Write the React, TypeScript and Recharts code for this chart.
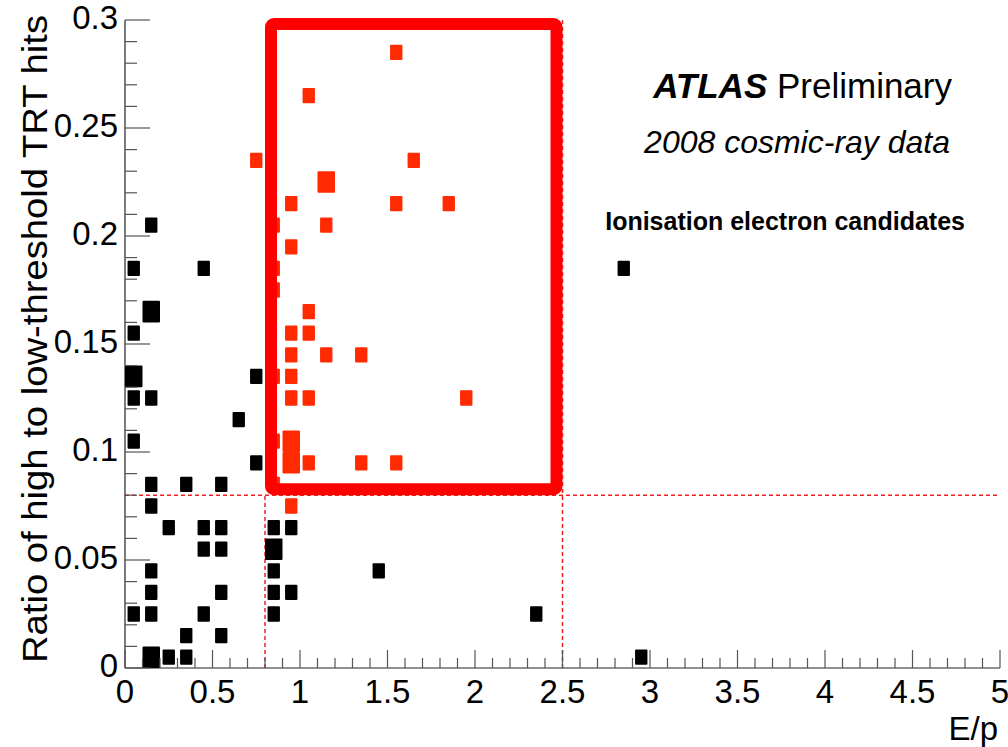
import React from 'react';
import { ScatterChart, Scatter, XAxis, YAxis, ReferenceLine, ReferenceArea } from 'recharts';

// Cosmic-ray tracks binned in E/p (0.1 wide) and TRT high/low-threshold hit ratio (0.01 wide).
// Each entry is a bin centre with its number of entries.
const allTrackEp = [
  0.15, 0.05, 0.45, 0.15, 0.05, 0.05, 0.75, 0.05, 0.15, 0.65, 0.05, 0.75, 0.15, 0.35, 0.55,
  0.15, 0.25, 0.45, 0.55, 0.85, 0.95, 0.45, 0.55, 0.85, 0.15, 0.85, 1.45, 0.15, 0.55, 0.85,
  0.95, 0.05, 0.15, 0.45, 0.85, 2.35, 0.35, 0.55, 0.15, 0.25, 0.35, 2.95, 2.85,
];
const allTrackRatio = [
  0.205, 0.185, 0.185, 0.165, 0.155, 0.135, 0.135, 0.125, 0.125, 0.115, 0.105, 0.095, 0.085, 0.085, 0.085,
  0.075, 0.065, 0.065, 0.065, 0.065, 0.065, 0.055, 0.055, 0.055, 0.045, 0.045, 0.045, 0.035, 0.035, 0.035,
  0.035, 0.025, 0.025, 0.025, 0.025, 0.025, 0.015, 0.015, 0.005, 0.005, 0.005, 0.005, 0.185,
];
const allTrackCount = [
  1, 1, 1, 2, 1, 2, 1, 1, 1, 1, 1, 1, 1, 1, 1,
  1, 1, 1, 1, 1, 1, 1, 1, 2, 1, 1, 1, 1, 1, 1,
  1, 1, 1, 1, 1, 1, 1, 1, 2, 1, 1, 1, 1,
];

const candidateEp = [
  1.55, 1.05, 0.75, 1.65, 1.15, 0.95, 1.55, 1.85, 0.85, 1.15, 0.95, 0.85, 0.85, 1.05, 0.95, 1.05,
  0.95, 1.15, 1.35, 0.85, 0.95, 0.95, 1.05, 1.95, 0.85, 0.95, 0.95, 1.05, 1.35, 1.55, 0.85, 0.95,
];
const candidateRatio = [
  0.285, 0.265, 0.235, 0.235, 0.225, 0.215, 0.215, 0.215, 0.205, 0.205, 0.195, 0.185, 0.175, 0.165, 0.155, 0.155,
  0.145, 0.145, 0.145, 0.135, 0.135, 0.125, 0.125, 0.125, 0.105, 0.105, 0.095, 0.095, 0.095, 0.095, 0.085, 0.075,
];
const candidateCount = [
  1, 1, 1, 1, 2, 1, 1, 1, 1, 1, 1, 1, 1, 1, 1, 1,
  1, 1, 1, 1, 1, 1, 1, 1, 1, 2, 2, 1, 1, 1, 1, 1,
];

const X_MAJOR_TICKS = [0, 0.5, 1, 1.5, 2, 2.5, 3, 3.5, 4, 4.5, 5];
const X_TICK_LABELS = ['0', '0.5', '1', '1.5', '2', '2.5', '3', '3.5', '4', '4.5', '5'];
const Y_MAJOR_TICKS = [0, 0.05, 0.1, 0.15, 0.2, 0.25, 0.3];
const Y_TICK_LABELS = ['0', '0.05', '0.1', '0.15', '0.2', '0.25', '0.3'];

// Selection cuts
const EP_MIN = 0.8;
const EP_MAX = 2.5;
const RATIO_MIN = 0.08;

const X_DOMAIN: [number, number] = [0, 5];
const Y_DOMAIN: [number, number] = [0, 0.3];
const X_BIN = 0.1;
const Y_BIN = 0.01;
const MAX_COUNT = 2;

// Layout
const WIDTH = 1008;
const HEIGHT = 747;
const MARGIN = { top: 20, right: 8, bottom: 0, left: 0 };
const Y_AXIS_WIDTH = 125;
const X_AXIS_HEIGHT = 79;
const PLOT_W = WIDTH - MARGIN.left - MARGIN.right - Y_AXIS_WIDTH;
const PLOT_H = HEIGHT - MARGIN.top - MARGIN.bottom - X_AXIS_HEIGHT;
const BIN_W_PX = (PLOT_W * X_BIN) / (X_DOMAIN[1] - X_DOMAIN[0]);
const BIN_H_PX = (PLOT_H * Y_BIN) / (Y_DOMAIN[1] - Y_DOMAIN[0]);

const FONT = "'Liberation Sans', Arial, Helvetica, sans-serif";
const AXIS_COLOR = '#222';
const TICK_COLOR = '#555';
const CANDIDATE_COLOR = '#ff2a00';
const CUT_COLOR = '#f02020';

const minorTicks = (lo: number, hi: number, step: number) => {
  const n = Math.round((hi - lo) / step);
  const out: number[] = [];
  for (let i = 0; i <= n; i++) out.push(+(lo + i * step).toFixed(4));
  return out;
};
const X_ALL_TICKS = minorTicks(X_DOMAIN[0], X_DOMAIN[1], X_BIN);
const Y_ALL_TICKS = minorTicks(Y_DOMAIN[0], Y_DOMAIN[1], Y_BIN);

const majorIndex = (list: number[], v: number) => list.findIndex((t) => Math.abs(t - v) < 1e-9);

const allTracks = allTrackEp.map((ep, i) => ({ ep, ratio: allTrackRatio[i], count: allTrackCount[i] }));
const candidates = candidateEp.map((ep, i) => ({ ep, ratio: candidateRatio[i], count: candidateCount[i] }));

// Tick renderers: tick marks point into the frame, as in a ROOT canvas
const makeXTick = (dir: 1 | -1, majorLen: number, minorLen: number, withLabels: boolean) => (props: any) => {
  const { x, y, payload } = props;
  const idx = majorIndex(X_MAJOR_TICKS, payload.value);
  const len = idx >= 0 ? majorLen : minorLen;
  return (
    <g>
      <line x1={x} x2={x} y1={y} y2={y + dir * len} stroke={TICK_COLOR} strokeWidth={1.2} />
      {withLabels && idx >= 0 && (
        <text x={x} y={y + 35} textAnchor="middle" fontSize={33} fontFamily={FONT} fill="#000">
          {X_TICK_LABELS[idx]}
        </text>
      )}
    </g>
  );
};

const makeYTick = (dir: 1 | -1, majorLen: number, minorLen: number, withLabels: boolean) => (props: any) => {
  const { x, y, payload } = props;
  const idx = majorIndex(Y_MAJOR_TICKS, payload.value);
  const len = idx >= 0 ? majorLen : minorLen;
  return (
    <g>
      <line x1={x} x2={x + dir * len} y1={y} y2={y} stroke={TICK_COLOR} strokeWidth={1.2} />
      {withLabels && idx >= 0 && (
        <text x={x - 7} y={y + 9} textAnchor="end" fontSize={33} fontFamily={FONT} fill="#000">
          {Y_TICK_LABELS[idx]}
        </text>
      )}
    </g>
  );
};

const binBox = (fill: string) => (props: any) => {
  const { cx, cy, payload } = props;
  const s = Math.sqrt(payload.count / MAX_COUNT);
  const w = BIN_W_PX * s;
  const h = BIN_H_PX * s;
  return <rect x={cx - w / 2} y={cy - h / 2} width={w} height={h} fill={fill} rx={1} />;
};

const selectionBox = (props: any) => {
  const { x, y, width, height } = props;
  const sw = 12;
  return (
    <rect
      x={x + sw / 2}
      y={y + sw / 2 - 2}
      width={width - sw}
      height={height - sw + 2}
      fill="none"
      stroke="#ff0000"
      strokeWidth={sw}
      rx={3}
    />
  );
};

const axisLine = { stroke: AXIS_COLOR, strokeWidth: 1.2 };

export default function App() {
  return (
    <div style={{ position: 'fixed', left: 0, top: 0, width: WIDTH, height: HEIGHT, background: '#fff' }}>
      <ScatterChart width={WIDTH} height={HEIGHT} margin={MARGIN}>
        <XAxis
          xAxisId="bottom"
          orientation="bottom"
          type="number"
          dataKey="ep"
          domain={X_DOMAIN}
          allowDataOverflow
          ticks={X_ALL_TICKS}
          interval={0}
          height={X_AXIS_HEIGHT}
          tickSize={0}
          tickMargin={0}
          tickLine={false}
          axisLine={axisLine}
          tick={makeXTick(-1, 18, 10, true)}
        />
        <XAxis
          xAxisId="top"
          orientation="top"
          mirror
          type="number"
          domain={X_DOMAIN}
          allowDataOverflow
          ticks={X_ALL_TICKS}
          interval={0}
          height={0}
          tickSize={0}
          tickMargin={0}
          tickLine={false}
          axisLine={axisLine}
          tick={makeXTick(1, 15, 8, false)}
        />
        <YAxis
          yAxisId="left"
          orientation="left"
          type="number"
          dataKey="ratio"
          domain={Y_DOMAIN}
          allowDataOverflow
          ticks={Y_ALL_TICKS}
          interval={0}
          width={Y_AXIS_WIDTH}
          tickSize={0}
          tickMargin={0}
          tickLine={false}
          axisLine={axisLine}
          tick={makeYTick(1, 25, 12, true)}
        />
        <YAxis
          yAxisId="right"
          orientation="right"
          mirror
          type="number"
          domain={Y_DOMAIN}
          allowDataOverflow
          ticks={Y_ALL_TICKS}
          interval={0}
          width={0}
          tickSize={0}
          tickMargin={0}
          tickLine={false}
          axisLine={axisLine}
          tick={makeYTick(-1, 22, 12, false)}
        />

        <ReferenceLine
          xAxisId="bottom"
          yAxisId="left"
          segment={[{ x: EP_MIN, y: Y_DOMAIN[0] }, { x: EP_MIN, y: RATIO_MIN }]}
          stroke={CUT_COLOR}
          strokeWidth={1.5}
          strokeDasharray="4 3"
        />
        <ReferenceLine
          xAxisId="bottom"
          yAxisId="left"
          x={EP_MAX}
          stroke={CUT_COLOR}
          strokeWidth={1.5}
          strokeDasharray="4 3"
        />
        <ReferenceLine
          xAxisId="bottom"
          yAxisId="left"
          y={RATIO_MIN}
          stroke={CUT_COLOR}
          strokeWidth={1.5}
          strokeDasharray="4 3"
        />

        <Scatter
          name="all tracks"
          data={allTracks}
          xAxisId="bottom"
          yAxisId="left"
          shape={binBox('#000')}
          isAnimationActive={false}
        />
        <Scatter
          name="Ionisation electron candidates"
          data={candidates}
          xAxisId="bottom"
          yAxisId="left"
          shape={binBox(CANDIDATE_COLOR)}
          isAnimationActive={false}
        />

        <ReferenceArea
          xAxisId="bottom"
          yAxisId="left"
          x1={EP_MIN}
          x2={EP_MAX}
          y1={RATIO_MIN}
          y2={Y_DOMAIN[1]}
          shape={selectionBox}
          zIndex={2000}
        />
      </ScatterChart>

      <svg
        width={WIDTH}
        height={HEIGHT}
        style={{ position: 'absolute', left: 0, top: 0, pointerEvents: 'none' }}
        fontFamily={FONT}
      >
        <text x={952} y={98} textAnchor="end" fontSize={35} fill="#000">
          <tspan fontWeight="bold" fontStyle="italic">ATLAS</tspan>
          <tspan> Preliminary</tspan>
        </text>
        <text x={950} y={153} textAnchor="end" fontSize={32} fontStyle="italic" fill="#000">
          2008 cosmic-ray data
        </text>
        <text x={965} y={230} textAnchor="end" fontSize={25} fontWeight="bold" fill="#000">
          Ionisation electron candidates
        </text>
        <text x={998} y={740} textAnchor="end" fontSize={33} fill="#000">
          E/p
        </text>
        <text
          transform="translate(47,663) rotate(-90)"
          x={0}
          y={0}
          fontSize={35}
          fill="#000"
          textLength={648}
          lengthAdjust="spacingAndGlyphs"
        >
          Ratio of high to low-threshold TRT hits
        </text>
      </svg>
    </div>
  );
}
